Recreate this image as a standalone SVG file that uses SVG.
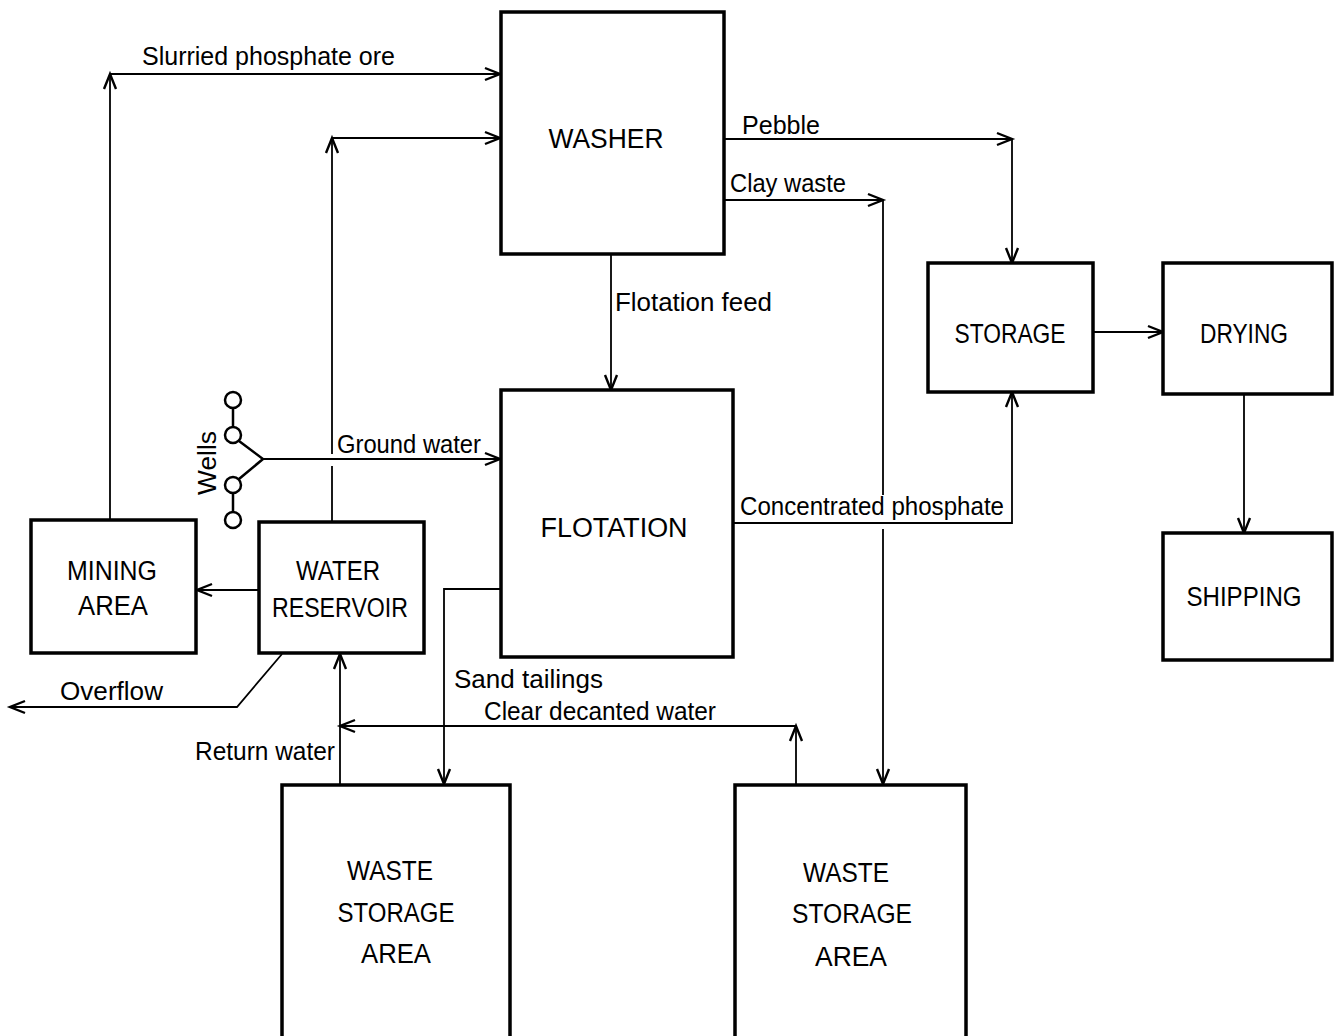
<svg xmlns="http://www.w3.org/2000/svg" width="1336" height="1036" viewBox="0 0 1336 1036">
<style>
.box{fill:#fff;stroke:#000;stroke-width:3.5}
.ln{fill:none;stroke:#000;stroke-width:1.8}
.nt{font-family:"Liberation Sans",Arial,sans-serif;font-size:27px;fill:#000;text-anchor:middle}
.lb{font-family:"Liberation Sans",Arial,sans-serif;font-size:25px;fill:#000}
.well{fill:#fff;stroke:#000;stroke-width:2.5}
</style>
<defs>
<marker id="ah" markerUnits="userSpaceOnUse" viewBox="-16 -8 18 16" refX="0" refY="0" markerWidth="18" markerHeight="16" orient="auto" overflow="visible">
<path d="M-15,-6 L0,0 L-15,6" fill="none" stroke="#000" stroke-width="2.4" stroke-linejoin="miter"/>
</marker>
</defs>
<rect width="1336" height="1036" fill="#fff"/>
<g id="connectors">
<line class="ln" x1="110" y1="520" x2="110" y2="74" marker-end="url(#ah)"/>
<line class="ln" x1="110" y1="74" x2="500" y2="74" marker-end="url(#ah)"/>
<line class="ln" x1="332" y1="522" x2="332" y2="466"/>
<line class="ln" x1="332" y1="454" x2="332" y2="138" marker-end="url(#ah)"/>
<line class="ln" x1="332" y1="138" x2="500" y2="138" marker-end="url(#ah)"/>
<line class="ln" x1="724" y1="139" x2="1012" y2="139" marker-end="url(#ah)"/>
<line class="ln" x1="1012" y1="139" x2="1012" y2="263" marker-end="url(#ah)"/>
<line class="ln" x1="724" y1="200" x2="883" y2="200" marker-end="url(#ah)"/>
<line class="ln" x1="883" y1="200" x2="883" y2="495"/>
<line class="ln" x1="883" y1="529" x2="883" y2="784" marker-end="url(#ah)"/>
<line class="ln" x1="611" y1="254" x2="611" y2="390" marker-end="url(#ah)"/>
<line class="ln" x1="1093" y1="332" x2="1163" y2="332" marker-end="url(#ah)"/>
<line class="ln" x1="1244" y1="394" x2="1244" y2="533" marker-end="url(#ah)"/>
<polyline class="ln" points="733,523 1012,523 1012,392" marker-end="url(#ah)"/>
<line class="ln" x1="263" y1="459" x2="500" y2="459" marker-end="url(#ah)"/>
<line class="ln" x1="259" y1="590" x2="197" y2="590" marker-end="url(#ah)"/>
<polyline class="ln" points="282,654 237,707 10,707" marker-end="url(#ah)"/>
<line class="ln" x1="340" y1="785" x2="340" y2="654" marker-end="url(#ah)"/>
<line class="ln" x1="796" y1="785" x2="796" y2="726" marker-end="url(#ah)"/>
<line class="ln" x1="796" y1="726" x2="340" y2="726" marker-end="url(#ah)"/>
<polyline class="ln" points="501,589 444,589 444,784" marker-end="url(#ah)"/>
</g>
<g id="wells">
<line x1="233" y1="400" x2="233" y2="435" stroke="#000" stroke-width="2.5"/>
<line x1="233" y1="485" x2="233" y2="520" stroke="#000" stroke-width="2.5"/>
<polyline points="239,441 263,459 239,479" fill="none" stroke="#000" stroke-width="2.5"/>
<circle class="well" cx="233" cy="400" r="8"/>
<circle class="well" cx="233" cy="435" r="8"/>
<circle class="well" cx="233" cy="485" r="8"/>
<circle class="well" cx="233" cy="520" r="8"/>
<text class="lb" transform="translate(216,463) rotate(-90)" text-anchor="middle" textLength="64" lengthAdjust="spacingAndGlyphs">Wells</text>
</g>
<g id="washer">
<rect class="box" x="501" y="12" width="223" height="242"/>
<text class="nt" x="606" y="148" textLength="115" lengthAdjust="spacingAndGlyphs">WASHER</text>
</g>
<g id="flotation">
<rect class="box" x="501" y="390" width="232" height="267"/>
<text class="nt" x="614" y="537" textLength="147" lengthAdjust="spacingAndGlyphs">FLOTATION</text>
</g>
<g id="storage">
<rect class="box" x="928" y="263" width="165" height="129"/>
<text class="nt" x="1010" y="343" textLength="111" lengthAdjust="spacingAndGlyphs">STORAGE</text>
</g>
<g id="drying">
<rect class="box" x="1163" y="263" width="169" height="131"/>
<text class="nt" x="1244" y="343" textLength="88" lengthAdjust="spacingAndGlyphs">DRYING</text>
</g>
<g id="shipping">
<rect class="box" x="1163" y="533" width="169" height="127"/>
<text class="nt" x="1244" y="606" textLength="115" lengthAdjust="spacingAndGlyphs">SHIPPING</text>
</g>
<g id="mining-area">
<rect class="box" x="31" y="520" width="165" height="133"/>
<text class="nt" x="112" y="580" textLength="90" lengthAdjust="spacingAndGlyphs">MINING</text>
<text class="nt" x="113" y="615" textLength="70" lengthAdjust="spacingAndGlyphs">AREA</text>
</g>
<g id="water-reservoir">
<rect class="box" x="259" y="522" width="165" height="131"/>
<text class="nt" x="338" y="580" textLength="84" lengthAdjust="spacingAndGlyphs">WATER</text>
<text class="nt" x="340" y="617" textLength="136" lengthAdjust="spacingAndGlyphs">RESERVOIR</text>
</g>
<g id="waste-storage-1">
<rect class="box" x="282" y="785" width="228" height="260"/>
<text class="nt" x="390" y="880" textLength="86" lengthAdjust="spacingAndGlyphs">WASTE</text>
<text class="nt" x="396" y="922" textLength="117" lengthAdjust="spacingAndGlyphs">STORAGE</text>
<text class="nt" x="396" y="963" textLength="70" lengthAdjust="spacingAndGlyphs">AREA</text>
</g>
<g id="waste-storage-2">
<rect class="box" x="735" y="785" width="231" height="260"/>
<text class="nt" x="846" y="882" textLength="86" lengthAdjust="spacingAndGlyphs">WASTE</text>
<text class="nt" x="852" y="923" textLength="120" lengthAdjust="spacingAndGlyphs">STORAGE</text>
<text class="nt" x="851" y="966" textLength="72" lengthAdjust="spacingAndGlyphs">AREA</text>
</g>
<g id="labels">
<text class="lb" x="142" y="65" textLength="253" lengthAdjust="spacingAndGlyphs">Slurried phosphate ore</text>
<text class="lb" x="742" y="134" textLength="78" lengthAdjust="spacingAndGlyphs">Pebble</text>
<text class="lb" x="730" y="192" textLength="116" lengthAdjust="spacingAndGlyphs">Clay waste</text>
<text class="lb" x="615" y="311" textLength="157" lengthAdjust="spacingAndGlyphs">Flotation feed</text>
<text class="lb" x="337" y="453" textLength="144" lengthAdjust="spacingAndGlyphs">Ground water</text>
<text class="lb" x="740" y="515" textLength="264" lengthAdjust="spacingAndGlyphs">Concentrated phosphate</text>
<text class="lb" x="60" y="700" textLength="103" lengthAdjust="spacingAndGlyphs">Overflow</text>
<text class="lb" x="195" y="760" textLength="140" lengthAdjust="spacingAndGlyphs">Return water</text>
<text class="lb" x="454" y="688" textLength="149" lengthAdjust="spacingAndGlyphs">Sand tailings</text>
<text class="lb" x="484" y="720" textLength="232" lengthAdjust="spacingAndGlyphs">Clear decanted water</text>
</g>
</svg>
